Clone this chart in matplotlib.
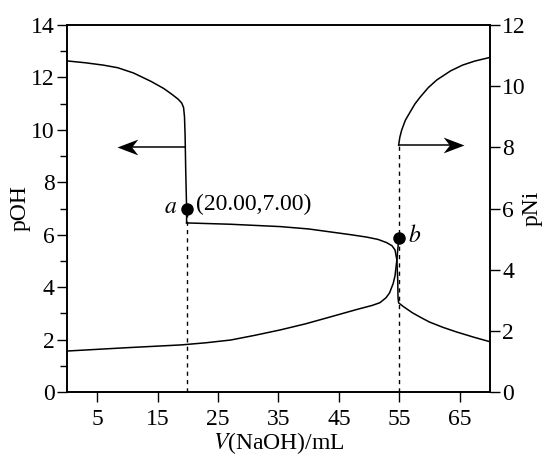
import matplotlib
matplotlib.use("Agg")
import matplotlib.pyplot as plt
from matplotlib.path import Path

plt.rcParams["font.family"] = ["Liberation Serif", "STIXGeneral", "DejaVu Serif"]
plt.rcParams["mathtext.fontset"] = "stix"

# pOH curve (left axis)
poh_v1 = [0, 3, 6, 8.4, 11, 13.9, 16, 17.4, 18.4, 19.0, 19.3, 19.45, 19.55, 19.65, 19.8, 19.8]
poh_y1 = [12.63, 12.56, 12.47, 12.37, 12.17, 11.85, 11.58, 11.35, 11.17, 11.02, 10.85, 10.5, 9.8, 8.5, 7.0, 6.45]
poh_v2 = [19.8, 27, 35.3, 40, 43.5, 47, 49.6, 51.5, 52.9, 53.8, 54.3, 54.6, 54.75, 54.8, 54.9,
          55.8, 57.2, 58.6, 60, 62.2, 64.5, 67.5, 70]
poh_y2 = [6.45, 6.40, 6.31, 6.22, 6.11, 6.0, 5.91, 5.82, 5.70, 5.58, 5.42, 5.05, 4.3, 3.6, 3.40,
          3.24, 3.02, 2.84, 2.67, 2.47, 2.29, 2.08, 1.92]

# pNi curve (right axis)
pni_v1 = [0, 10, 18.9, 23, 27.1, 31, 35.3, 39.5, 43.5, 48, 50.5, 51.8, 52.8, 53.4, 54.0, 54.3, 54.6, 54.8, 54.9]
pni_y1 = [1.34, 1.45, 1.54, 1.61, 1.70, 1.85, 2.03, 2.23, 2.45, 2.70, 2.83, 2.92, 3.08, 3.24, 3.55, 3.80, 4.3, 4.75, 5.03]
pni_v2 = [54.9, 55.1, 55.4, 56.0, 56.7, 57.6, 58.5, 59.8, 61.2, 63.5, 65.5, 67.5, 69.6, 70]
pni_y2 = [8.07, 8.33, 8.56, 8.88, 9.12, 9.42, 9.65, 9.95, 10.2, 10.5, 10.69, 10.82, 10.92, 10.94]

point_a = (19.8, 7.0)      # on pOH axis
point_b = (54.9, 5.03)     # on pNi axis
arrow_left = (19.6, 8.3, 9.35)   # from x, to x, pOH level
arrow_right = (54.9, 65.8, 8.07)  # from x, to x, pNi level

x_ticks = [5, 15, 25, 35, 45, 55, 65]
poh_ticks = [0, 2, 4, 6, 8, 10, 12, 14]
pni_ticks = [0, 2, 4, 6, 8, 10, 12]

# stealth-style arrow heads, tip at the origin
head_right = Path([(0, 0), (-1, 0.38), (-0.7, 0), (-1, -0.38), (0, 0)],
                  [Path.MOVETO, Path.LINETO, Path.LINETO, Path.LINETO, Path.CLOSEPOLY])
head_left = Path([(0, 0), (1, 0.38), (0.7, 0), (1, -0.38), (0, 0)],
                 [Path.MOVETO, Path.LINETO, Path.LINETO, Path.LINETO, Path.CLOSEPOLY])

fig = plt.figure(figsize=(5.51, 4.57), dpi=100)
ax = fig.add_axes([0.1216, 0.1422, 0.889 - 0.1216, 0.9453 - 0.1422])
ax2 = ax.twinx()

lw = 1.1
ax.plot(poh_v1, poh_y1, color="k", lw=lw)
ax.plot(poh_v2, poh_y2, color="k", lw=lw)
ax2.plot(pni_v1, pni_y1, color="k", lw=lw)
ax2.plot(pni_v2, pni_y2, color="k", lw=lw)

# dashed guide lines
ax.plot([point_a[0], point_a[0]], [0, point_a[1]], color="k", lw=1.0, ls=(0, (3, 3)))
ax2.plot([point_b[0], point_b[0]], [0, pni_y2[0]], color="k", lw=1.0, ls=(0, (3, 3)))

ax.plot(*point_a, "o", color="k", ms=8)
ax2.plot(*point_b, "o", color="k", ms=8)

# arrows pointing to the axis each curve belongs to
ax.plot([arrow_left[0], arrow_left[1] + 1.0], [arrow_left[2]] * 2, color="k", lw=lw)
ax.plot(arrow_left[1], arrow_left[2], marker=head_left, ms=30, color="k", mew=0)
ax2.plot([arrow_right[0], arrow_right[1] - 1.0], [arrow_right[2]] * 2, color="k", lw=lw)
ax2.plot(arrow_right[1], arrow_right[2], marker=head_right, ms=30, color="k", mew=0)

fs = 17
ax.text(17.2, 7.05, "$a$", fontsize=fs, ha="center", va="center")
ax.text(21.3, 7.15, "(20.00,7.00)", fontsize=fs, ha="left", va="center")
ax2.text(56.4, 5.1, "$b$", fontsize=fs, ha="left", va="center")

ax.set_xlim(0, 70)
ax.set_ylim(0, 14)
ax2.set_ylim(0, 12)

ax.set_xticks(x_ticks)
ax.set_yticks(poh_ticks)
ax.set_yticks(range(1, 14, 2), minor=True)
ax2.set_yticks(pni_ticks)

ax.tick_params(axis="x", direction="out", length=7, width=1.0, labelsize=fs, pad=5)
ax.tick_params(axis="y", which="major", direction="out", length=7, width=1.0, labelsize=fs, pad=2)
ax.tick_params(axis="y", which="minor", direction="out", length=5, width=1.0)
ax2.tick_params(axis="y", direction="out", length=7, width=1.0, labelsize=fs, pad=2)

for a_ in (ax, ax2):
    for s in a_.spines.values():
        s.set_linewidth(1.2)

ax.set_xlabel("$V$(NaOH)/mL", fontsize=fs, labelpad=0)
ax.set_ylabel("pOH", fontsize=fs, labelpad=0)
ax2.set_ylabel("pNi", fontsize=fs, labelpad=-3)

fig.savefig("out.png", dpi=100)
